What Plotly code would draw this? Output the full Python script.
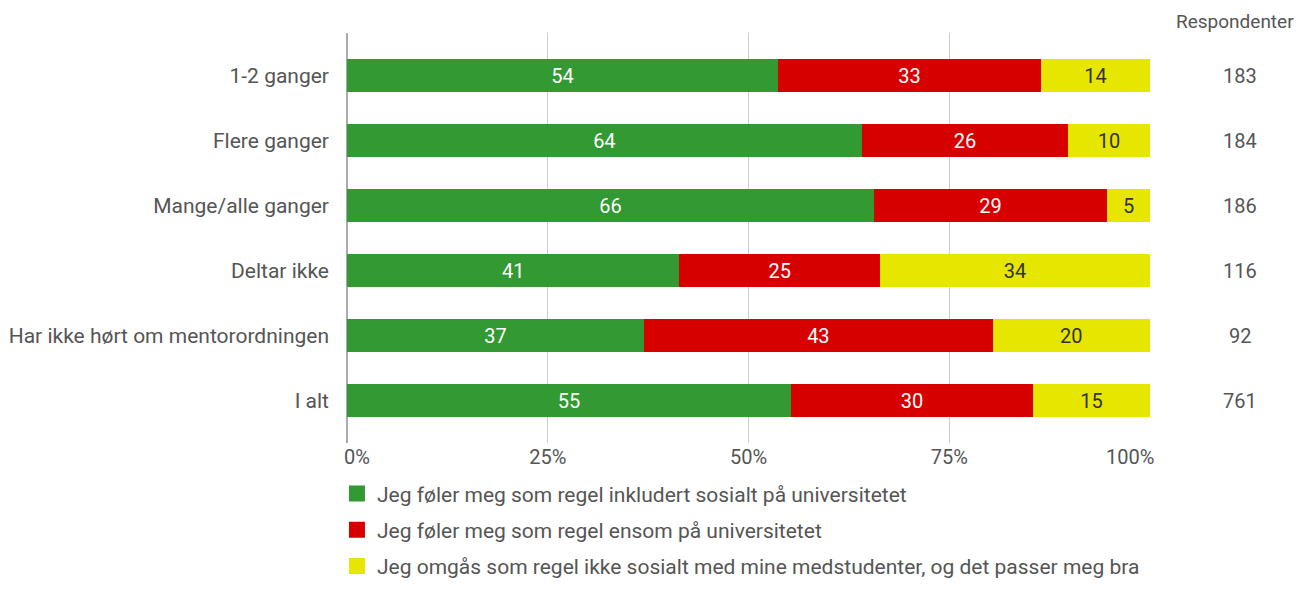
import plotly.graph_objects as go

categories = ["1-2 ganger", "Flere ganger", "Mange/alle ganger", "Deltar ikke",
              "Har ikke hørt om mentorordningen", "I alt"]
inkludert = [53.7, 64.1, 65.6, 41.4, 37.0, 55.3]
ensom = [32.7, 25.7, 29.1, 25.0, 43.4, 30.1]
ikke_sosialt = [13.6, 10.2, 5.3, 33.6, 19.6, 14.6]
respondenter = [183, 184, 186, 116, 92, 761]
x_ticks = [0, 25, 50, 75, 100]
x_ticklabels = ["0%", "25%", "50%", "75%", "100%"]

series = [
    ("Jeg føler meg som regel inkludert sosialt på universitetet", inkludert, "#339933", "white"),
    ("Jeg føler meg som regel ensom på universitetet", ensom, "#d70000", "white"),
    ("Jeg omgås som regel ikke sosialt med mine medstudenter, og det passer meg bra", ikke_sosialt, "#e6e600", "#333333"),
]

FONT = "Roboto, Arial, sans-serif"
TXT = "#555555"
NB = "\u00a0"
# end labels are kept inside the plot edges, as in the reference
tick_text_display = list(x_ticklabels)
tick_text_display[0] = NB * 4 + tick_text_display[0]
tick_text_display[-1] = tick_text_display[-1] + NB * 8

fig = go.Figure()
for i, (name, vals, color, tcolor) in enumerate(series):
    fig.add_trace(go.Bar(
        y=categories, x=vals, name=name, orientation="h",
        marker=dict(color=color, line=dict(width=0)),
        text=vals, texttemplate="%{x:.0f}", textposition="inside",
        insidetextanchor="middle",
        textfont=dict(color=tcolor, size=20, family=FONT),
        showlegend=False, hoverinfo="skip",
    ))
# legend entries with larger square swatches
for i, (name, vals, color, tcolor) in enumerate(series):
    fig.add_trace(go.Scatter(
        x=[None], y=[None], mode="markers", name=name,
        marker=dict(symbol="square", size=16, color=color),
        legendgroup=f"g{i}", hoverinfo="skip",
    ))

for cat, n in zip(categories, respondenter):
    fig.add_annotation(x=1.112, xref="paper", y=cat, yref="y", text=str(n),
                       xanchor="center", yanchor="middle",
                       showarrow=False, font=dict(size=20, color=TXT, family=FONT))
fig.add_annotation(x=1.106, xref="paper", y=1.027, yref="paper", text="Respondenter",
                   xanchor="center", yanchor="middle",
                   showarrow=False, font=dict(size=19, color=TXT, family=FONT))

fig.update_layout(
    width=1299, height=574,
    barmode="stack", bargap=0.49,
    plot_bgcolor="white", paper_bgcolor="white",
    font=dict(family=FONT, size=20, color=TXT),
    margin=dict(l=339, r=157, t=25, b=139, autoexpand=False),
    xaxis=dict(range=[0, 100], tickvals=x_ticks, ticktext=tick_text_display,
               showgrid=True, gridcolor="#cccccc", gridwidth=1,
               zeroline=True, zerolinecolor="#aaaaaa", zerolinewidth=2,
               showline=False, ticks="", tickfont=dict(size=20, color=TXT),
               fixedrange=True),
    yaxis=dict(range=[5.65, -0.66], showgrid=False, zeroline=False, ticks="",
               ticklabelstandoff=17,
               tickfont=dict(size=21, color=TXT), fixedrange=True),
    legend=dict(orientation="v", x=-0.0125, xanchor="left", y=-0.074, yanchor="top",
                traceorder="grouped", tracegroupgap=6, itemsizing="trace",
                font=dict(size=21, color=TXT, family=FONT),
                itemwidth=30, bgcolor="rgba(0,0,0,0)"),
    showlegend=True,
)

fig.write_html("out.html")
